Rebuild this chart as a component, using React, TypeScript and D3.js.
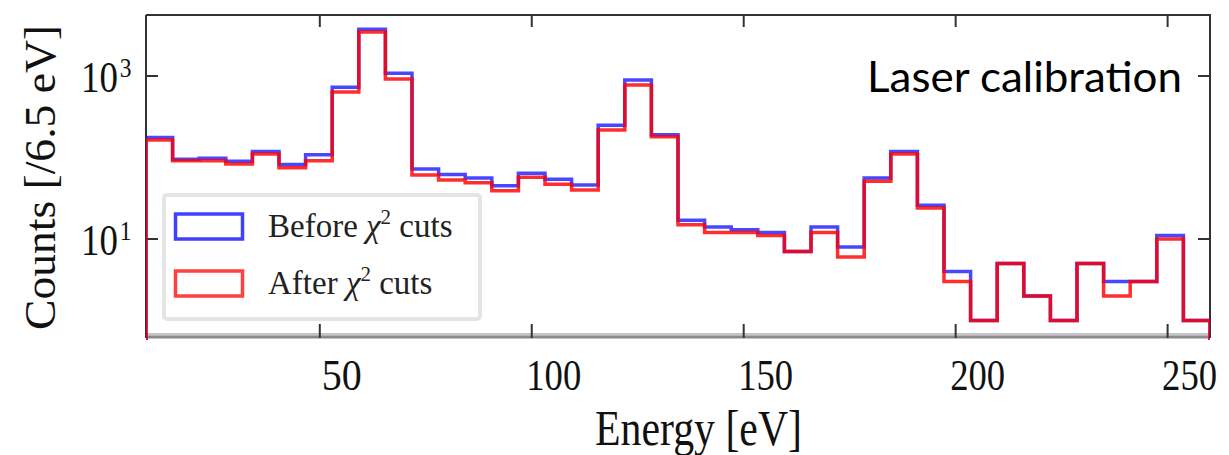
import { useRef, useEffect } from 'react';
import * as d3 from 'd3';

// histogram bins: 40 bins of equal width starting at the left edge of the axis
const BIN_START = 9;
const BIN_WIDTH = 6.275;
const binEdges = d3.range(41).map(i => BIN_START + i * BIN_WIDTH);

// counts per bin
const beforeCounts = [176, 95, 98, 90, 118, 82, 108, 726, 3740, 1079, 72, 62, 56, 45, 64, 54, 46, 248, 893, 190,
  17, 14, 13, 12, 7, 14, 8, 56, 118, 26, 4, 1, 5, 2, 1, 5, 3, 3, 11, 1];
const afterCounts = [164, 91, 91, 83, 110, 75, 91, 637, 3467, 919, 61, 53, 49, 39, 57, 47, 40, 217, 776, 180,
  15, 12, 12, 11, 7, 12, 6, 51, 110, 24, 3, 1, 5, 2, 1, 5, 2, 3, 10, 1];

const xTicks = [50, 100, 150, 200, 250];
const yTicks = [10, 1000];
const xDomain = [9, 260];
const yDomain = [0.645, 5600];

const legendItems = [
  { label: 'Before', color: '#0000ff' },
  { label: 'After', color: '#ff0000' },
];

const W = 1229;
const H = 455;

export default function App() {
  const svgRef = useRef<SVGSVGElement>(null);

  useEffect(() => {
    const svg = d3.select(svgRef.current);
    svg.selectAll('*').remove();

    const left = 146, right = 1210, top = 15, bottom = 336;
    const x = d3.scaleLinear().domain(xDomain).range([left, right]);
    const y = d3.scaleLog().domain(yDomain).range([bottom, top]);
    const serif = '"Liberation Serif", "Times New Roman", serif';

    svg.append('defs').append('clipPath').attr('id', 'plotclip')
      .append('rect').attr('x', left).attr('y', top).attr('width', right - left).attr('height', bottom - top + 4);

    // bottom band (grey)
    svg.append('rect').attr('x', left).attr('y', bottom - 3).attr('width', right - left).attr('height', 2.5).attr('fill', '#c4c4c4');
    svg.append('rect').attr('x', left).attr('y', bottom - 0.5).attr('width', right - left).attr('height', 3).attr('fill', '#8a8a8a');

    // spines
    const spine = '#333';
    svg.append('line').attr('x1', left).attr('x2', right + 1).attr('y1', top).attr('y2', top).attr('stroke', spine).attr('stroke-width', 2);
    svg.append('line').attr('x1', left).attr('x2', left).attr('y1', top).attr('y2', bottom + 2).attr('stroke', spine).attr('stroke-width', 2);
    svg.append('line').attr('x1', right).attr('x2', right).attr('y1', top).attr('y2', bottom + 2).attr('stroke', spine).attr('stroke-width', 2);

    // ticks (inward, all sides)
    xTicks.forEach(t => {
      svg.append('line').attr('x1', x(t)).attr('x2', x(t)).attr('y1', top).attr('y2', top + 12).attr('stroke', spine).attr('stroke-width', 2);
      svg.append('line').attr('x1', x(t)).attr('x2', x(t)).attr('y1', bottom + 2).attr('y2', bottom - 12).attr('stroke', spine).attr('stroke-width', 2);
      const lbl = String(t);
      svg.append('text').attr('x', x(t) + 22).attr('y', 390).attr('text-anchor', 'middle')
        .attr('font-family', serif).attr('font-size', 45).attr('fill', '#111')
        .attr('textLength', lbl.length === 2 ? 40 : 55).attr('lengthAdjust', 'spacingAndGlyphs')
        .text(lbl);
    });
    yTicks.forEach(t => {
      svg.append('line').attr('x1', left).attr('x2', left + 12).attr('y1', y(t)).attr('y2', y(t)).attr('stroke', spine).attr('stroke-width', 2);
      svg.append('line').attr('x1', right).attr('x2', right - 12).attr('y1', y(t)).attr('y2', y(t)).attr('stroke', spine).attr('stroke-width', 2);
      const lab = svg.append('text').attr('transform', `translate(81,${y(t) + 16}) scale(0.84,1)`)
        .attr('font-family', serif).attr('font-size', 44).attr('fill', '#111');
      lab.append('tspan').text('10');
      lab.append('tspan').attr('font-size', 28).attr('dx', 2).attr('dy', -15).text(String(Math.round(Math.log10(t))));
    });

    // axis titles
    svg.append('text').attr('x', 595).attr('y', 445)
      .attr('font-family', serif).attr('font-size', 50).attr('fill', '#111')
      .attr('textLength', 207).attr('lengthAdjust', 'spacingAndGlyphs').text('Energy [eV]');
    svg.append('text').attr('transform', 'translate(55,330) rotate(-90)')
      .attr('font-family', serif).attr('font-size', 45).attr('fill', '#111')
      .attr('textLength', 305).attr('lengthAdjust', 'spacingAndGlyphs').text('Counts [/6.5 eV]');

    // step histograms
    const stepPath = (counts: number[]) => {
      const pts: [number, number][] = [[x(binEdges[0]), bottom + 4]];
      counts.forEach((c, i) => {
        pts.push([x(binEdges[i]), y(c)]);
        pts.push([x(binEdges[i + 1]), y(c)]);
      });
      pts.push([x(binEdges[counts.length]), bottom + 4]);
      return d3.line()(pts);
    };
    const hg = svg.append('g').attr('clip-path', 'url(#plotclip)');
    hg.append('path').attr('d', stepPath(beforeCounts)).attr('fill', 'none')
      .attr('stroke', '#0000ff').attr('stroke-opacity', 0.72).attr('stroke-width', 3.5).attr('stroke-linejoin', 'miter');
    hg.append('path').attr('d', stepPath(afterCounts)).attr('fill', 'none')
      .attr('stroke', '#ff0000').attr('stroke-opacity', 0.82).attr('stroke-width', 3.5).attr('stroke-linejoin', 'miter');

    // legend
    svg.append('rect').attr('x', 164).attr('y', 195).attr('width', 316).attr('height', 124).attr('rx', 3)
      .attr('fill', '#fff').attr('stroke', '#e4e4e4').attr('stroke-width', 4);
    legendItems.forEach((d, i) => {
      const yy = 214 + i * 57;
      svg.append('rect').attr('x', 175.5).attr('y', yy).attr('width', 67).attr('height', 25)
        .attr('fill', 'none').attr('stroke', d.color).attr('stroke-opacity', 0.75).attr('stroke-width', 3.5);
      const t = svg.append('text').attr('x', 268).attr('y', yy + 23)
        .attr('font-family', serif).attr('font-size', 33).attr('fill', '#222');
      t.append('tspan').text(d.label + ' ');
      t.append('tspan').attr('font-style', 'italic').text('χ');
      t.append('tspan').attr('font-size', 21).attr('dy', -13).text('2');
      t.append('tspan').attr('dy', 13).text(' cuts');
    });

    // annotation
    svg.append('text').attr('x', 867).attr('y', 92)
      .attr('font-family', 'Lato, "Open Sans", sans-serif').attr('font-size', 42).attr('fill', '#000')
      .attr('textLength', 315).attr('lengthAdjust', 'spacingAndGlyphs').text('Laser calibration');
  }, []);

  return (
    <svg ref={svgRef} width={W} height={H}
      style={{ position: 'absolute', left: 0, top: 0, display: 'block', background: '#fff' }} />
  );
}
